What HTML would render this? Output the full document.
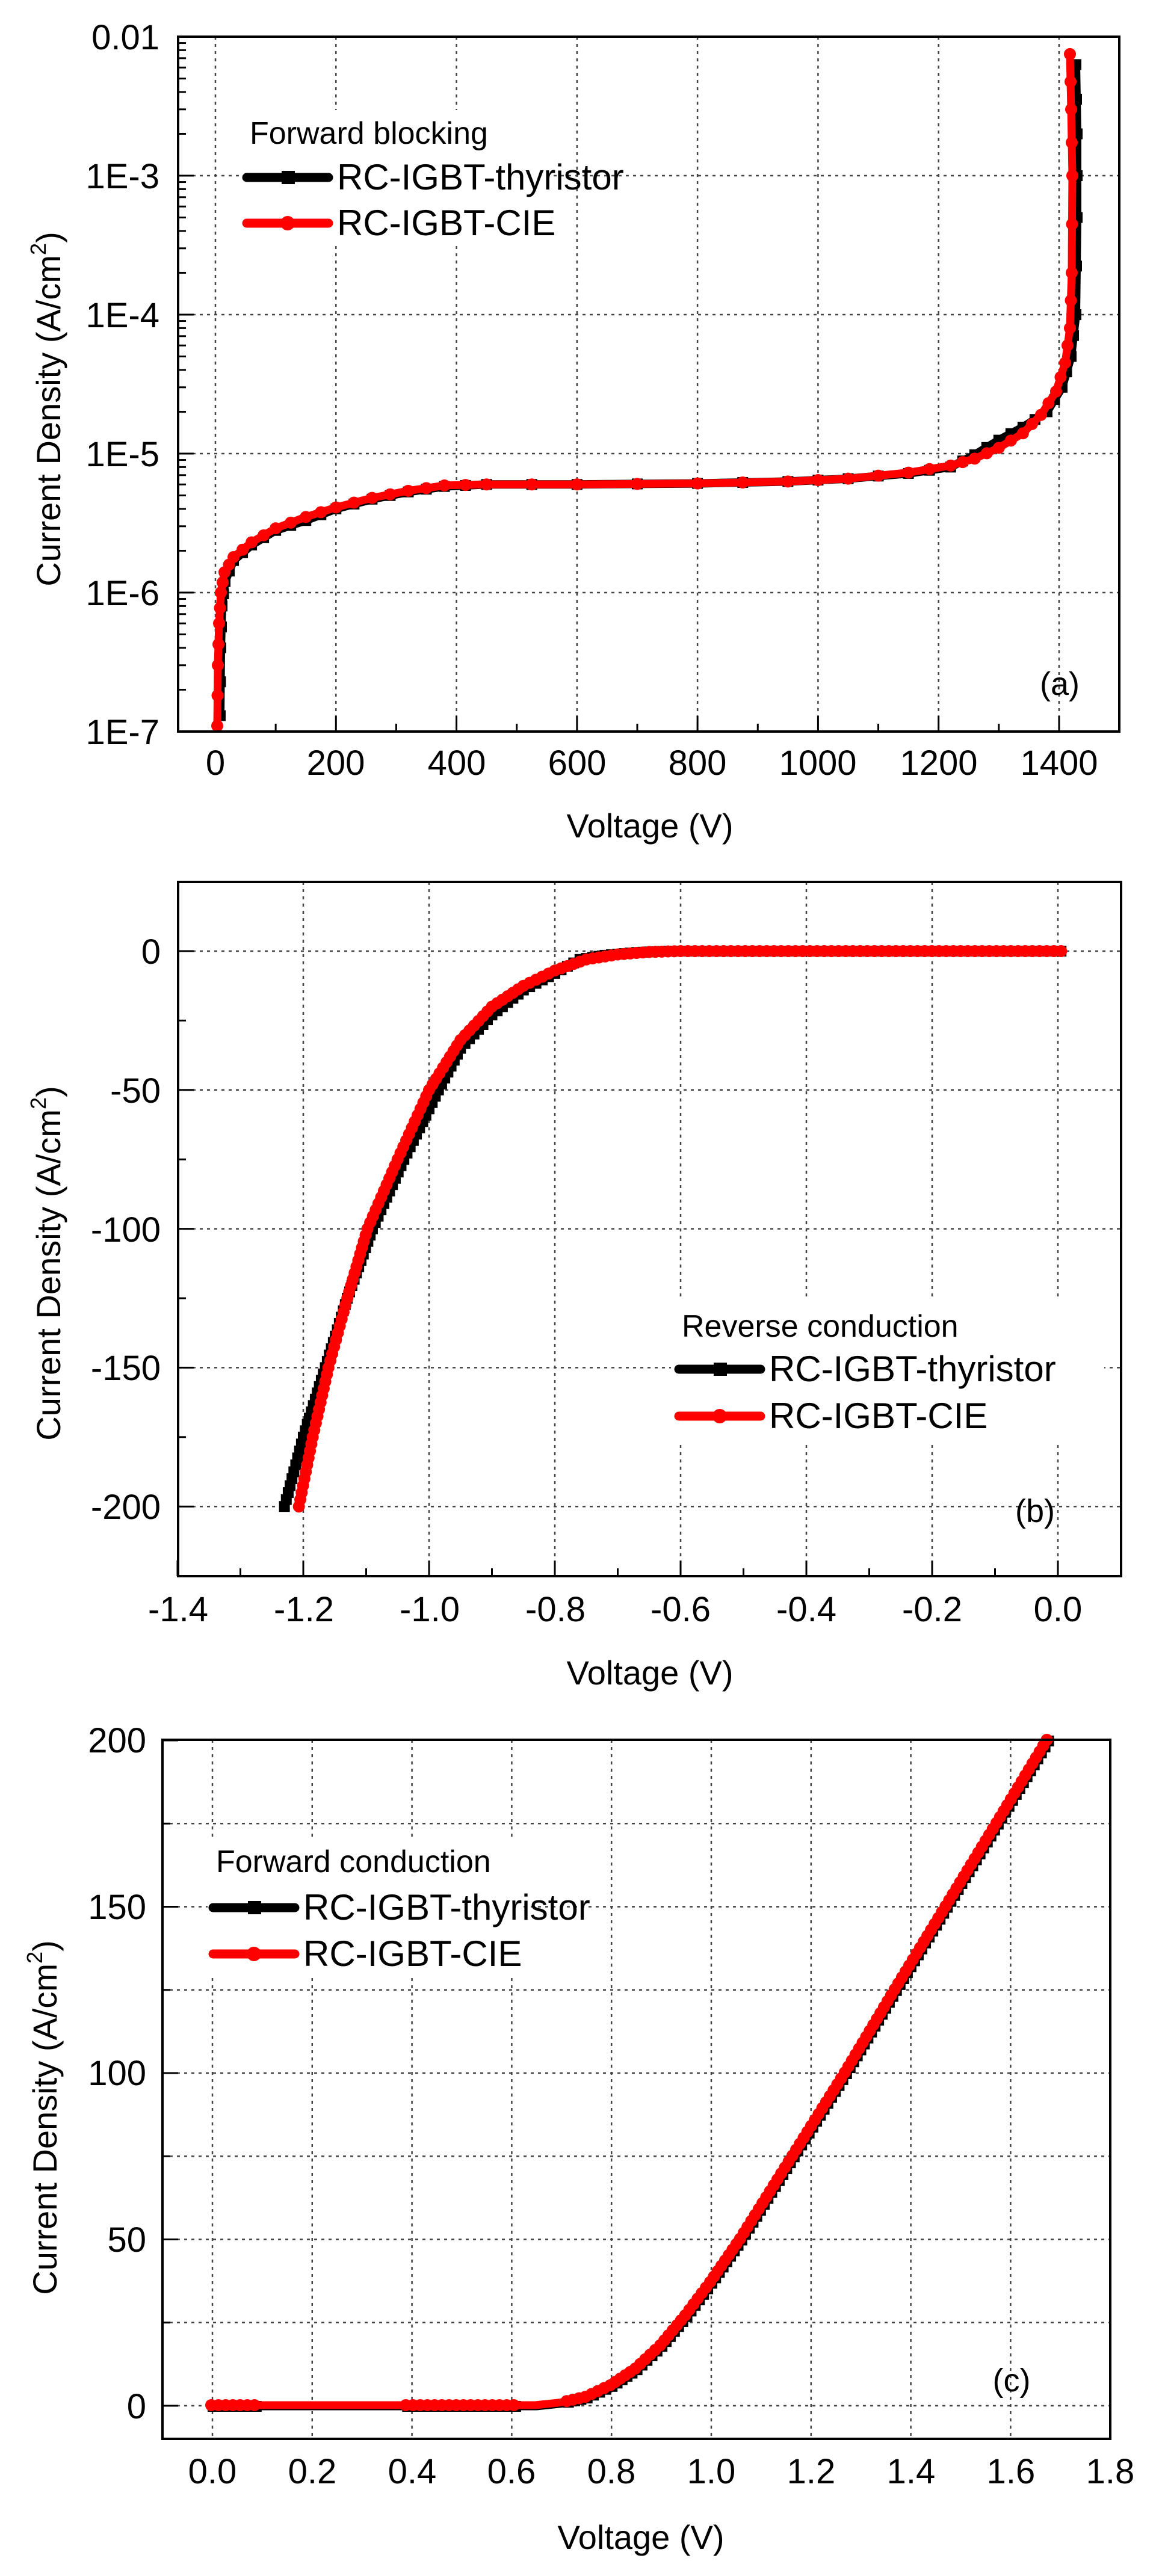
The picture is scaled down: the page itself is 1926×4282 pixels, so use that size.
<!DOCTYPE html>
<html><head><meta charset="utf-8">
<style>
html,body{margin:0;padding:0;background:#fff;}
svg{display:block;}
text{font-family:"Liberation Sans",Arial,sans-serif;fill:#000;}
</style></head>
<body>
<svg id="s" width="1926" height="4282" viewBox="0 0 1926 4282" xmlns="http://www.w3.org/2000/svg">
<rect width="1926" height="4282" fill="#fff"/>
<g id="g"></g>
<g font-size="58" text-anchor="end">
<text x="265" y="82">0.01</text>
<text x="265" y="313">1E-3</text>
<text x="265" y="544">1E-4</text>
<text x="265" y="775">1E-5</text>
<text x="265" y="1006">1E-6</text>
<text x="265" y="1237">1E-7</text>
</g>
<g font-size="58" text-anchor="middle">
<text x="358" y="1288">0</text><text x="558" y="1288">200</text><text x="759" y="1288">400</text>
<text x="959" y="1288">600</text><text x="1159" y="1288">800</text><text x="1359" y="1288">1000</text>
<text x="1560" y="1288">1200</text><text x="1760" y="1288">1400</text>
</g>
<text x="1080" y="1392" font-size="56" text-anchor="middle">Voltage (V)</text>
<text transform="translate(100,680) rotate(-90)" font-size="56" text-anchor="middle">Current Density (A/cm<tspan font-size="36" dy="-24">2</tspan><tspan dy="24">)</tspan></text>
<text x="1761" y="1155" font-size="54" text-anchor="middle">(a)</text>

<g font-size="58" text-anchor="end">
<text x="267" y="1602">0</text>
<text x="267" y="1833">-50</text>
<text x="267" y="2064">-100</text>
<text x="267" y="2294">-150</text>
<text x="267" y="2525">-200</text>
</g>
<g font-size="58" text-anchor="middle">
<text x="296" y="2695">-1.4</text><text x="505" y="2695">-1.2</text><text x="714" y="2695">-1.0</text>
<text x="923" y="2695">-0.8</text><text x="1131" y="2695">-0.6</text><text x="1340" y="2695">-0.4</text>
<text x="1549" y="2695">-0.2</text><text x="1758" y="2695">0.0</text>
</g>
<text x="1080" y="2800" font-size="56" text-anchor="middle">Voltage (V)</text>
<text transform="translate(100,2100) rotate(-90)" font-size="56" text-anchor="middle">Current Density (A/cm<tspan font-size="36" dy="-24">2</tspan><tspan dy="24">)</tspan></text>
<text x="1720" y="2530" font-size="54" text-anchor="middle">(b)</text>

<g font-size="58" text-anchor="end">
<text x="243" y="2913">200</text>
<text x="243" y="3190">150</text>
<text x="243" y="3466">100</text>
<text x="243" y="3743">50</text>
<text x="243" y="4020">0</text>
</g>
<g font-size="58" text-anchor="middle">
<text x="353" y="4128">0.0</text><text x="519" y="4128">0.2</text><text x="685" y="4128">0.4</text>
<text x="850" y="4128">0.6</text><text x="1016" y="4128">0.8</text><text x="1182" y="4128">1.0</text>
<text x="1348" y="4128">1.2</text><text x="1514" y="4128">1.4</text><text x="1680" y="4128">1.6</text>
<text x="1845" y="4128">1.8</text>
</g>
<text x="1065" y="4237" font-size="56" text-anchor="middle">Voltage (V)</text>
<text transform="translate(94,3520) rotate(-90)" font-size="56" text-anchor="middle">Current Density (A/cm<tspan font-size="36" dy="-24">2</tspan><tspan dy="24">)</tspan></text>
<text x="1681" y="3975" font-size="54" text-anchor="middle">(c)</text>
</svg>
<script>
(function(){
var NS="http://www.w3.org/2000/svg",g=document.getElementById('g');
function el(n,a,p){var e=document.createElementNS(NS,n);for(var k in a)e.setAttribute(k,a[k]);(p||g).appendChild(e);return e;}
function line(x1,y1,x2,y2,st,w,d){var a={x1:x1,y1:y1,x2:x2,y2:y2,stroke:st,'stroke-width':w};if(d)a['stroke-dasharray']=d;el('line',a);}
var GD="5,7",GC="#444";
function series(pts,color,w,marker,every){
  var d='';pts.forEach(function(p,i){d+=(i?'L':'M')+p[0].toFixed(1)+' '+p[1].toFixed(1);});
  el('path',{d:d,fill:'none',stroke:color,'stroke-width':w,'stroke-linejoin':'round','stroke-linecap':'round'});
  for(var i=0;i<pts.length;i+=every){var p=pts[i];
    if(marker=='sq')el('rect',{x:p[0]-9,y:p[1]-9,width:18,height:18,fill:color});
    else el('circle',{cx:p[0],cy:p[1],r:10,fill:color});}
}
function legend(x,y1,y2,title,ty,bg){
  el('rect',{x:bg[0],y:bg[1],width:bg[2],height:bg[3],fill:'#fff'});
  el('line',{x1:x,y1:y1,x2:x+136,y2:y1,stroke:'#000','stroke-width':15,'stroke-linecap':'round'});
  el('rect',{x:x+58,y:y1-11,width:22,height:22,fill:'#000'});
  el('line',{x1:x,y1:y2,x2:x+136,y2:y2,stroke:'#f00','stroke-width':15,'stroke-linecap':'round'});
  el('circle',{cx:x+68,cy:y2,r:12,fill:'#f00'});
  var t=el('text',{x:x+5,y:ty,'font-size':52});t.textContent=title;
  t=el('text',{x:x+150,y:y1+20,'font-size':60});t.textContent='RC-IGBT-thyristor';
  t=el('text',{x:x+150,y:y2+20,'font-size':60});t.textContent='RC-IGBT-CIE';
}
function frame(L,T,R,B){el('rect',{x:L,y:T,width:R-L,height:B-T,fill:'none',stroke:'#000','stroke-width':4});}

var aL=296,aT=61,aR=1860,aB=1216;
function ax(v){return 358+v*1.0014;} function ay(j){return 61+(-2-Math.log10(j))*231;}
for(var v=0;v<=1400;v+=200)line(ax(v),aT,ax(v),aB,GC,2.5,GD);
for(var k=-6;k<=-3;k++)line(aL,ay(Math.pow(10,k)),aR,ay(Math.pow(10,k)),GC,2.5,GD);
for(v=0;v<=1400;v+=100)line(ax(v),aB,ax(v),aB-(v%200?13:26),'#000',3);
for(k=-7;k<-2;k++){for(var m=1;m<10;m++){var yy=ay(m*Math.pow(10,k));line(aL,yy,aL+(m==1?26:13),yy,'#000',3);}}
var ra=[[3,1.1e-7],[4,3e-7],[6,6e-7],[9,1e-6],[15,1.4e-6],[30,1.8e-6],[60,2.3e-6],[100,2.9e-6],[150,3.5e-6],[200,4.1e-6],[260,4.8e-6],[320,5.4e-6],[380,5.9e-6],[450,6.0e-6],[600,6.0e-6],[800,6.1e-6],[950,6.3e-6],[1050,6.6e-6],[1150,7.3e-6],[1220,8.2e-6],[1260,9.2e-6],[1300,1.1e-5],[1340,1.4e-5],[1370,1.9e-5],[1395,2.8e-5],[1410,4.5e-5],[1418,8e-5],[1421,2e-4],[1422,1e-3],[1420,3e-3],[1418,7.5e-3]];
var ba=[[8,1.3e-7],[9,4e-7],[11,8e-7],[16,1.2e-6],[30,1.7e-6],[60,2.2e-6],[100,2.8e-6],[150,3.3e-6],[200,4e-6],[260,4.7e-6],[320,5.3e-6],[380,5.8e-6],[450,6.0e-6],[600,6.0e-6],[800,6.1e-6],[950,6.3e-6],[1050,6.6e-6],[1150,7.2e-6],[1220,8.0e-6],[1260,9.8e-6],[1300,1.25e-5],[1340,1.55e-5],[1380,2e-5],[1405,3e-5],[1420,5e-5],[1428,1e-4],[1430,5e-4],[1430,2e-3],[1428,6.3e-3]];
function densA(arr){var o=[];for(var i=0;i<arr.length-1;i++){var a=arr[i],b=arr[i+1];for(var t=0;t<1;t+=0.25){var V=a[0]+(b[0]-a[0])*t,J=Math.exp(Math.log(a[1])+(Math.log(b[1])-Math.log(a[1]))*t);o.push([ax(V),ay(J)]);}}var z=arr[arr.length-1];o.push([ax(z[0]),ay(z[1])]);return o;}
series(densA(ba),'#000',14,'sq',2);
series(densA(ra),'#f00',13,'ci',2);
frame(aL,aT,aR,aB);
legend(410,295,371,'Forward blocking',239,[400,183,520,222]);

var bL=296,bT=1466,bR=1863,bB=2620;
function bx(v){return 1758+v*1045;} function by(j){return 1581-j*4.616;}
for(v=-1.2;v<=0.01;v+=0.2)line(bx(v),bT,bx(v),bB,GC,2.5,GD);
for(var j=-200;j<=0;j+=50)line(bL,by(j),bR,by(j),GC,2.5,GD);
for(v=-1.4;v<=0.01;v+=0.1){var mj=Math.abs(Math.round(v*10))%2==0;line(bx(v),bB,bx(v),bB-(mj?26:13),'#000',3);}
for(j=-225;j<=25;j+=25)line(bL,by(j),bL+(j%50?13:26),by(j),'#000',3);
var rb=[[0.005,0],[-0.6,0],[-0.65,-0.3],[-0.7,-1.2],[-0.75,-3],[-0.8,-7],[-0.85,-12.5],[-0.9,-20],[-0.95,-32],[-1.0,-50],[-1.05,-75],[-1.098,-100],[-1.13,-125],[-1.16,-150],[-1.185,-175],[-1.207,-200]];
var bb=[[0.005,0],[-0.62,0],[-0.67,-0.5],[-0.72,-1.5],[-0.76,-3],[-0.8,-8],[-0.85,-14],[-0.9,-23],[-0.95,-35],[-0.985,-50],[-1.04,-75],[-1.09,-100],[-1.13,-125],[-1.165,-150],[-1.2,-175],[-1.23,-200]];
function densB(arr,f){var o=[];for(var i=0;i<arr.length-1;i++){var a=arr[i],b=arr[i+1];var n=Math.max(2,Math.ceil(Math.hypot(f(b)[0]-f(a)[0],f(b)[1]-f(a)[1])/12));for(var t=0;t<n;t++){var q=[a[0]+(b[0]-a[0])*t/n,a[1]+(b[1]-a[1])*t/n];o.push(f(q));}}o.push(f(arr[arr.length-1]));return o;}
var fb=function(p){return [bx(p[0]),by(p[1])];};
series(densB(bb,fb),'#000',14,'sq',1);
series(densB(rb,fb),'#f00',13,'ci',1);
frame(bL,bT,bR,bB);
legend(1128,2276,2354,'Reverse conduction',2222,[1115,2160,720,240]);

var cL=270,cT=2892,cR=1845,cB=4054;
function cx(v){return 353+v*829;} function cy(j){return 3999-j*5.53;}
for(v=0;v<=1.61;v+=0.2)line(cx(v),cT,cx(v),cB,GC,2.5,GD);
for(j=0;j<200;j+=25)line(cL,cy(j),cR,cy(j),GC,2.5,GD);
for(j=0;j<=200;j+=25)line(cL,cy(j),cL+(j%50?13:26),cy(j),'#000',3);
var pc=[[0,0],[0.65,0],[0.7,0.8],[0.75,2.5],[0.8,6],[0.85,11],[0.9,18],[0.95,27],[1.0,37],[1.06,50],[1.165,75],[1.27,100],[1.37,125],[1.472,150],[1.574,175],[1.675,200]];
var fc=function(p){return [cx(p[0]),cy(p[1])];};
var dc=densB(pc,fc);
el('path',{d:'M'+dc.map(function(p){return p[0]+' '+p[1];}).join('L'),fill:'none',stroke:'#000','stroke-width':15});
dc.forEach(function(p){if(p[1]<cy(1)||(p[0]<cx(0.1))||(p[0]>cx(0.38)&&p[0]<cx(0.62)))el('rect',{x:p[0]-8,y:p[1]-8,width:18,height:18,fill:'#000'});});
el('path',{d:'M'+dc.map(function(p){return (p[0]-2)+' '+(p[1]-1);}).join('L'),fill:'none',stroke:'#f00','stroke-width':13});
dc.forEach(function(p){if(p[1]<cy(1)||(p[0]<cx(0.1))||(p[0]>cx(0.38)&&p[0]<cx(0.62)))el('circle',{cx:p[0]-2,cy:p[1]-1,r:10,fill:'#f00'});});
frame(cL,cT,cR,cB);
legend(354,3171,3248,'Forward conduction',3112,[345,3060,520,225]);
})();
</script>
</body></html>
